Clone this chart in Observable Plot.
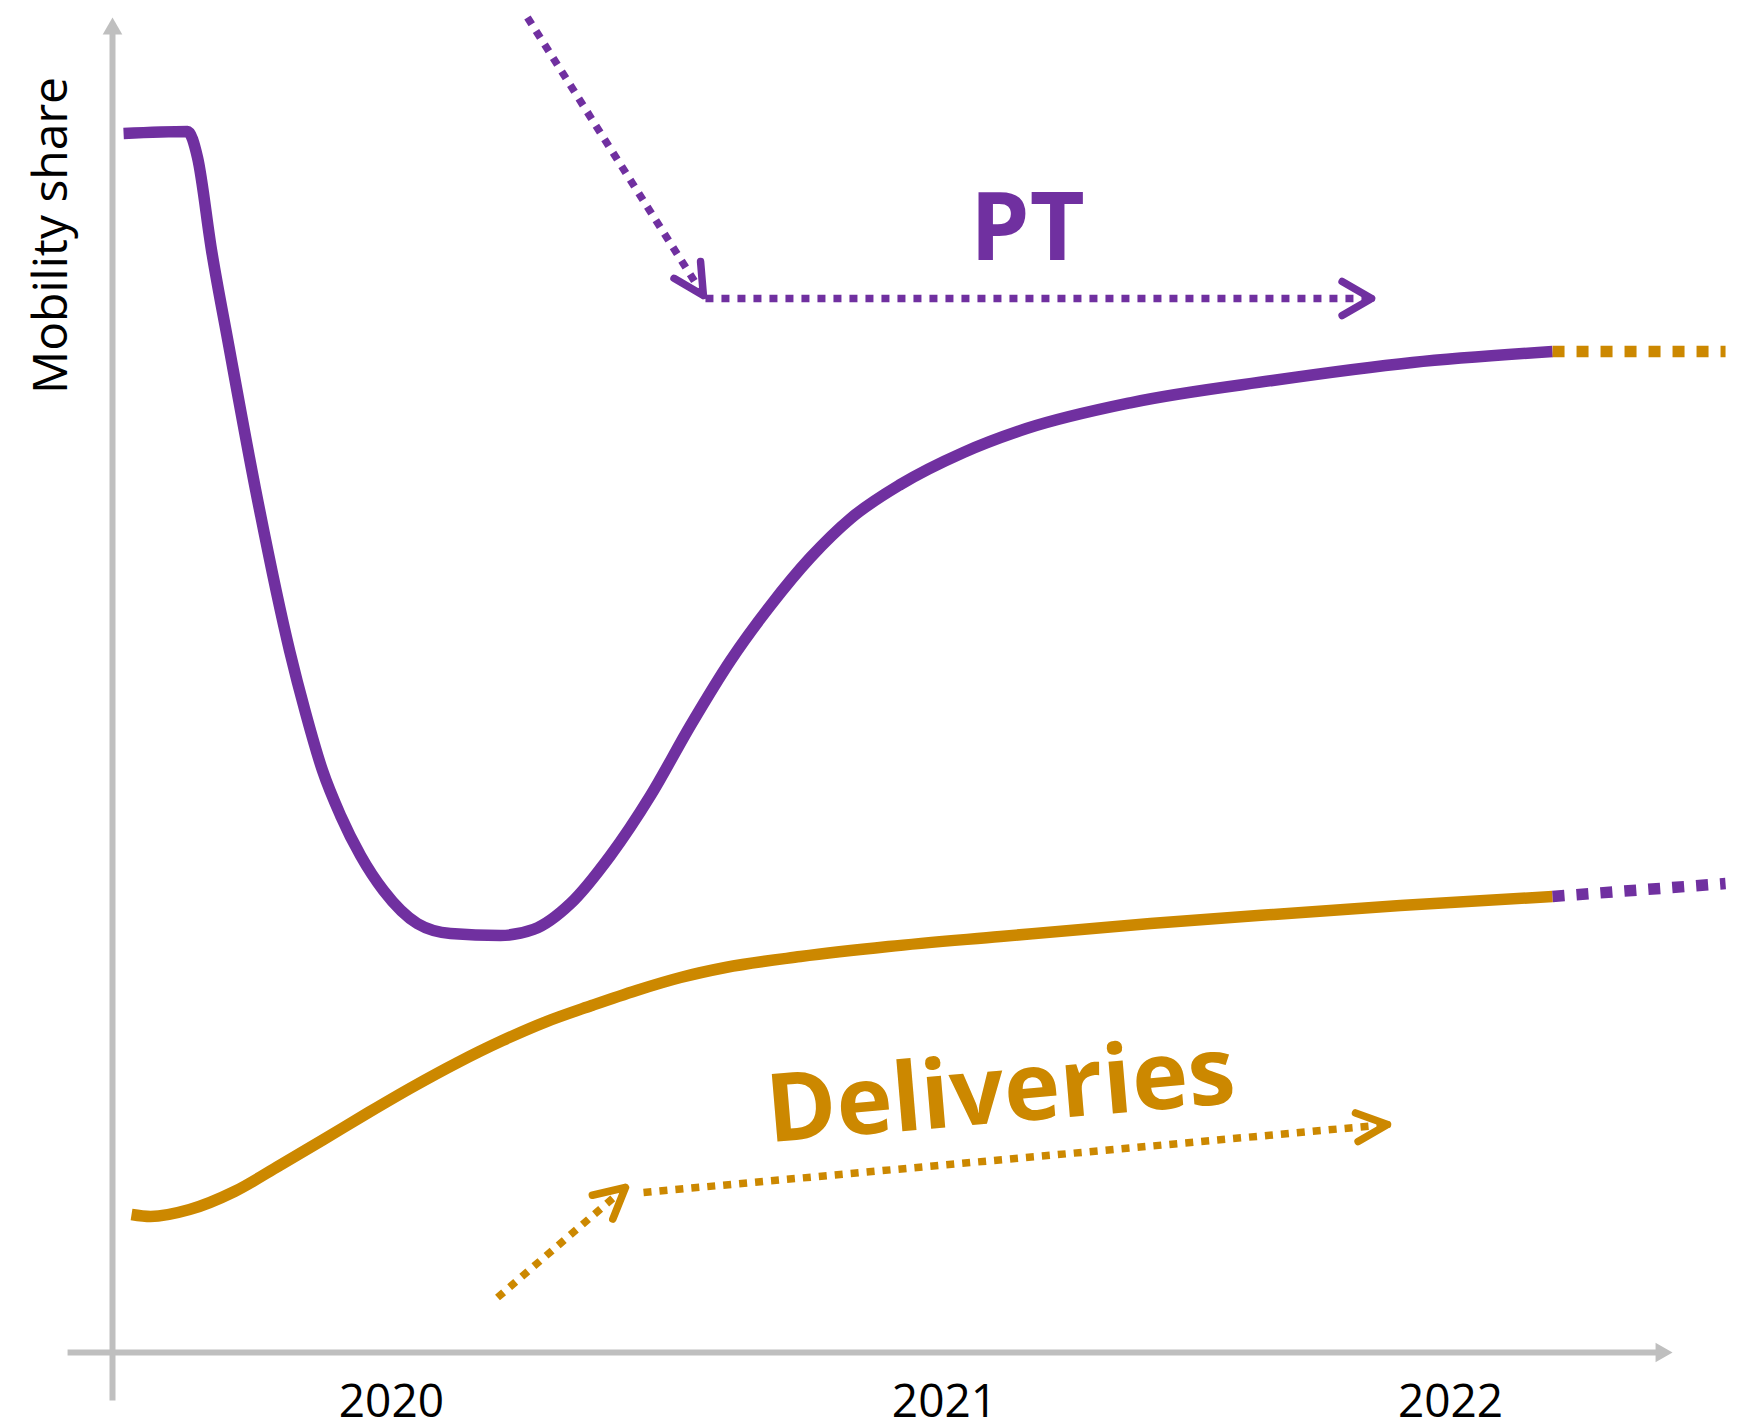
<!DOCTYPE html>
<html>
<head>
<meta charset="utf-8">
<script src="https://cdn.jsdelivr.net/npm/d3@7"></script>
<script src="https://cdn.jsdelivr.net/npm/@observablehq/plot@0.6"></script>
<style>html,body{margin:0;padding:0;background:#fff;}</style>
</head>
<body>
<div id="chart"></div>
<script>
// ---- data (x: relative time index 0–100, y: mobility share index 0–100) ----
const ptT = [0.71, 4.81, 5.45, 6.35, 7.44, 9.17, 11.35, 12.37, 13.46, 14.62, 15.90, 17.37, 19.55, 21.67, 24.87, 26.99, 29.36, 31.92, 34.49, 37.05, 39.62, 42.18, 44.74, 47.31, 50.51, 54.55, 58.59, 65.32, 74.36, 83.33, 92.31];
const ptShare = [91.31, 91.46, 89.51, 82.55, 75.51, 64.64, 52.58, 47.94, 43.60, 40.22, 37.23, 34.61, 32.13, 31.39, 31.24, 31.69, 33.63, 37.23, 41.72, 46.97, 51.84, 55.96, 59.55, 62.47, 65.02, 67.42, 69.21, 71.16, 72.81, 74.16, 74.98];

const delT = [1.22, 2.44, 4.94, 7.82, 10.71, 13.53, 16.41, 19.29, 22.12, 25.0, 27.82, 30.71, 33.59, 36.41, 39.29, 44.10, 49.74, 56.92, 66.54, 74.36, 82.56, 92.31];
const delShare = [10.34, 10.19, 10.71, 12.06, 14.01, 15.96, 17.98, 19.93, 21.72, 23.37, 24.79, 25.99, 27.12, 28.09, 28.84, 29.66, 30.41, 31.16, 32.13, 32.81, 33.48, 34.16];

// projected continuation (drawn dotted)
const projT = [92.31, 103.4];
const ptProj = [74.98, 74.98];
const delProj = [34.16, 35.13];

// trend annotation arrows
const arrowSeries = ["PT", "PT", "Deliveries", "Deliveries"];
const arrowX1 = [26.60, 38.01, 24.68, 34.04];
const arrowY1 = [100.0, 78.95, 4.12, 11.99];
const arrowX2 = [37.88, 80.71, 32.88, 81.73];
const arrowY2 = [79.18, 78.95, 12.36, 17.08];
const arrowHeadAngle = [55, 60, 55, 50];

// labels
const yearPos = [17.88, 53.33, 85.77];
const yearLabels = ["2020", "2021", "2022"];
const axisTitle = ["Mobility share"];
const ptLabel = {text: "PT", x: 58.65, y: 81.80};
const delLabel = {text: "Deliveries", x: 42.08, y: 15.75, rotate: -4.8};

// ---- styling ----
const colors = {PT: "#7030A0", Deliveries: "#CC8800"};
const axisColor = "#BFBFBF";
const W = 1741, H = 1425, ML = 112, MR = 69, MT = 17, MB = 73;
const sx = d3.scaleLinear([0, 100], [ML, W - MR]);
const sy = d3.scaleLinear([0, 100], [H - MB, MT]);

const ptData = ptT.map((t, i) => ({t, v: ptShare[i]}));
const delData = delT.map((t, i) => ({t, v: delShare[i]}));
const ptProjData = projT.map((t, i) => ({t, v: ptProj[i]}));
const delProjData = projT.map((t, i) => ({t, v: delProj[i]}));
const arrows = arrowSeries.map((s, i) => ({s, x1: arrowX1[i], y1: arrowY1[i], x2: arrowX2[i], y2: arrowY2[i], a: arrowHeadAngle[i]}));
const yearMap = new Map(yearPos.map((p, i) => [p, yearLabels[i]]));

const headMarks = arrows.map((a) => {
  const L = Math.hypot(sx(a.x2) - sx(a.x1), sy(a.y2) - sy(a.y1));
  return Plot.arrow([a], {
    x1: "x1", y1: "y1", x2: "x2", y2: "y2",
    stroke: colors[a.s], strokeWidth: 7.5, headLength: 6.8, headAngle: a.a,
    insetStart: L - 2, strokeLinecap: "round", strokeLinejoin: "round"
  });
});

const chart = Plot.plot({
  width: W, height: H,
  marginLeft: ML, marginRight: MR, marginTop: MT, marginBottom: MB,
  x: {domain: [0, 100]},
  y: {domain: [0, 100], axis: null},
  style: {fontFamily: "'Open Sans', sans-serif", background: "#fff", color: "#000", overflow: "visible"},
  marks: [
    // axes
    Plot.link([0], {x1: -2.88, x2: 99, y1: 0, y2: 0, stroke: axisColor, strokeWidth: 6}),
    Plot.link([0], {x1: 0, x2: 0, y1: -3.6, y2: 99, stroke: axisColor, strokeWidth: 6}),
    Plot.dot([0], {x: 0, y: 100, symbol: "triangle", r: 7.29, fill: axisColor, dy: 11.3}),
    Plot.dot([0], {x: 100, y: 0, symbol: "triangle", rotate: 90, r: 7.29, fill: axisColor, dx: -11.3}),
    Plot.axisX(yearPos, {tickFormat: (d) => yearMap.get(d), tickSize: 0, tickPadding: 32, fontSize: 46, label: null}),
    Plot.text(axisTitle, {frameAnchor: "top-left", dx: -60.4, dy: 218, rotate: -90, fontSize: 48, textAnchor: "middle", lineAnchor: "middle", fill: "#000"}),

    // series lines
    Plot.line(ptData, {x: "t", y: "v", stroke: colors.PT, strokeWidth: 11.5, curve: "monotone-x", strokeLinejoin: "round", strokeLinecap: "butt"}),
    Plot.line(delData, {x: "t", y: "v", stroke: colors.Deliveries, strokeWidth: 11.5, curve: "monotone-x", strokeLinejoin: "round", strokeLinecap: "butt"}),
    Plot.line(ptProjData, {x: "t", y: "v", stroke: colors.Deliveries, strokeWidth: 11.5, strokeDasharray: "12,12", strokeLinecap: "butt"}),
    Plot.line(delProjData, {x: "t", y: "v", stroke: colors.PT, strokeWidth: 11.5, strokeDasharray: "12,12", strokeLinecap: "butt"}),

    // dotted trend arrows
    Plot.link(arrows, {x1: "x1", y1: "y1", x2: "x2", y2: "y2", stroke: (d) => colors[d.s], strokeWidth: 7.5, strokeDasharray: "8,8", strokeLinecap: "butt"}),
    ...headMarks,

    // series labels
    Plot.text([ptLabel], {x: "x", y: "y", text: "text", textAnchor: "middle", lineAnchor: "bottom", fontSize: 95, fontWeight: 700, fill: colors.PT}),
    Plot.text([delLabel], {x: "x", y: "y", text: "text", rotate: delLabel.rotate, textAnchor: "start", lineAnchor: "bottom", fontSize: 95, fontWeight: 700, fill: colors.Deliveries})
  ]
});
document.getElementById("chart").appendChild(chart);
</script>
</body>
</html>
